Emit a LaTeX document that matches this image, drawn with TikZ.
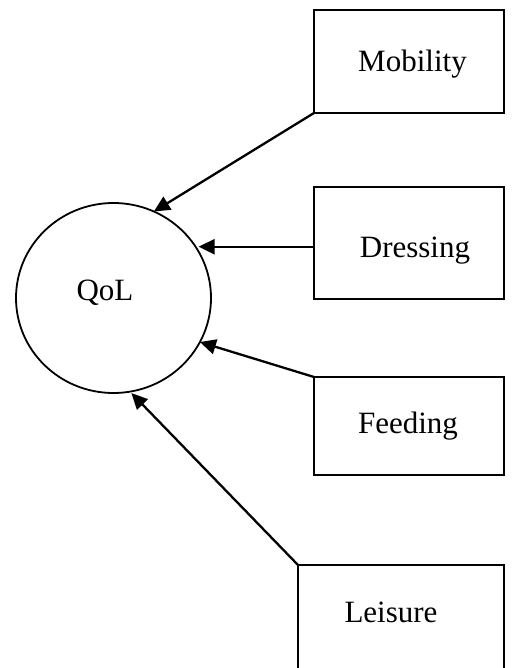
\documentclass[tikz,border=0pt]{standalone}
\usepackage{fontspec}
\setmainfont{Liberation Serif}
\usetikzlibrary{arrows.meta,shapes.geometric}

\tikzset{
  factor/.style={draw=black, line width=2.2pt, rectangle, inner sep=0pt, outer sep=0pt},
  outcome/.style={draw=black, line width=1.8pt, ellipse, inner sep=0pt, outer sep=0pt,
                  minimum width=195pt, minimum height=190pt},
  lbl/.style={anchor=base, inner sep=0pt, font=\fontsize{31}{37}\selectfont},
  arr/.style={draw=black, line width=2.3pt, -{Triangle[length=16pt,width=15pt]}}
}

\begin{document}
\begin{tikzpicture}[x=1pt, y=-1pt]
  \useasboundingbox (0,0) rectangle (512,668);

  % outcome
  \node[outcome] (qol) at (113.5,298) {};
  \node[lbl] (tqol) at (105,300) {QoL};

  % predictor boxes
  \node[factor, minimum width=190pt, minimum height=103pt] (mob) at (409,61.5) {};
  \node[factor, minimum width=190pt, minimum height=112pt] (dress) at (409,243) {};
  \node[factor, minimum width=190pt, minimum height=98pt] (feed) at (409,426) {};
  \node[factor, minimum width=206pt, minimum height=135pt] (leis) at (401,632.5) {};

  \node[lbl] (tmob) at (412.5,72) {Mobility};
  \node[lbl] (tdress) at (415,257) {Dressing};
  \node[lbl] (tfeed) at (408,433) {Feeding};
  \node[lbl] (tleis) at (391,622) {Leisure};

  % paths into the outcome
  \draw[arr] (mob.south west) -- (qol.65.9);
  \draw[arr, shorten >=3pt] (dress.west |- qol.32.5) -- (qol.32.5);
  \draw[arr] (feed.north west) -- (qol.-27.7);
  \draw[arr, shorten >=2pt] (leis.north west) -- (qol.-80.9);
\end{tikzpicture}
\end{document}
